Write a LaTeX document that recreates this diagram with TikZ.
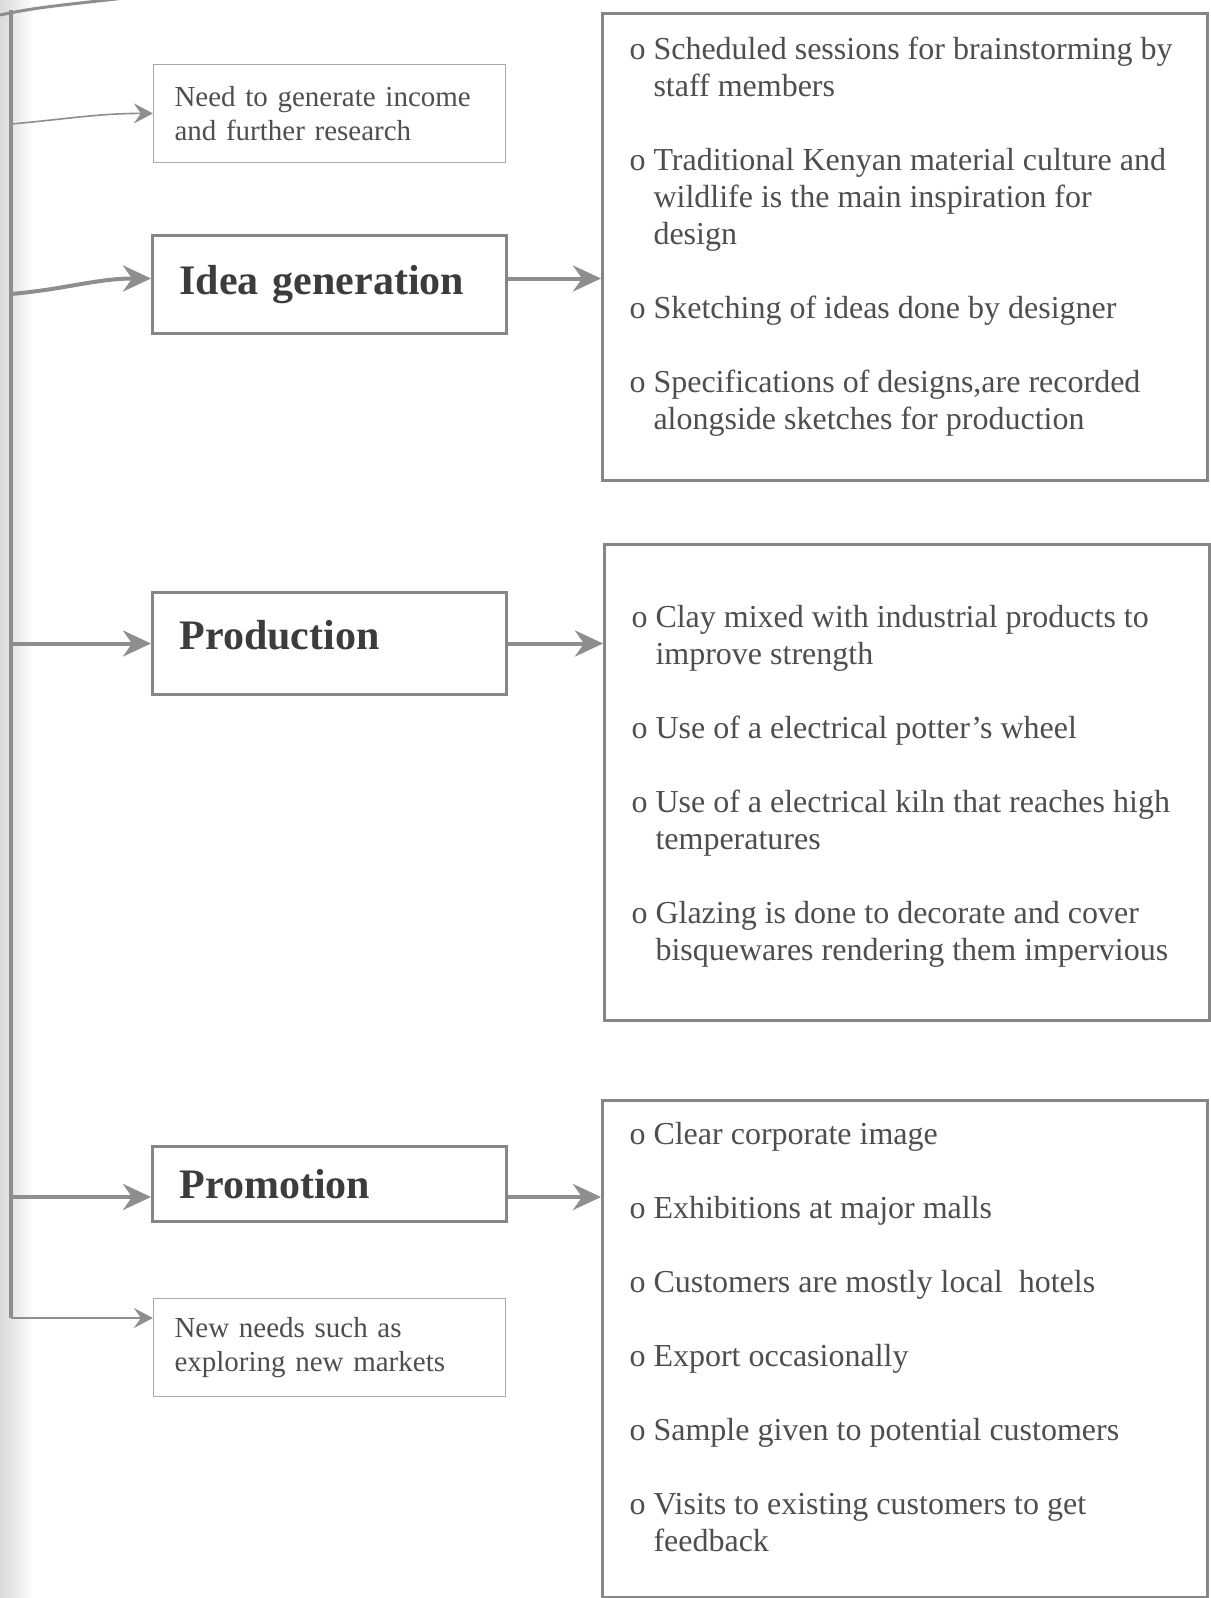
\documentclass[tikz,border=0pt]{standalone}
\usepackage{fontspec}
\setmainfont{Liberation Serif}
\usetikzlibrary{arrows.meta,positioning}

\definecolor{linegray}{HTML}{8E8E8E}
\definecolor{boxgray}{HTML}{868686}
\definecolor{thingray}{HTML}{AAAAAA}
\definecolor{inkgray}{HTML}{4E4E4E}
\definecolor{headgray}{HTML}{3C3C3C}

% one "o" point of a list, later lines hang under the text
\newcommand\bul[1]{\par\noindent\hangindent=24pt\hangafter=1\makebox[24pt][l]{o}{\let\\\newline #1}\par}
\newcommand\gap{\vspace{37pt}}
\newcommand\listbox[3]{\parbox[c][#1][t]{605pt}{\raggedright\leftskip=27pt\vspace*{#2}#3}}

\begin{document}
\begin{tikzpicture}[
    x = 1pt, y = -1pt, % pixel grid, y grows downwards
    > = {Stealth[length=28pt,width=26pt,inset=9pt]}, % arrow head style
    trunk/.style = {draw=linegray, line width=4pt},
    flow/.style = {draw=linegray, line width=4pt, ->},
    lead/.style = {draw=linegray, line width=1.6pt, -{Stealth[length=19pt,width=20pt,inset=7pt]}},
    stage/.style = {draw=boxgray, line width=3pt, anchor=north west,
        text width=300pt, inner xsep=27pt, inner ysep=0pt, align=left,
        font=\fontsize{42}{48}\selectfont\bfseries, text=headgray},
    note/.style = {draw=thingray, line width=1.2pt, minimum height=98pt,
        text width=310pt, inner xsep=21pt, inner ysep=0pt, align=left,
        font=\fontsize{29}{34}\selectfont, text=inkgray},
    detail/.style = {draw=boxgray, line width=3pt, inner sep=0pt, anchor=north west,
        font=\fontsize{32}{37}\selectfont, text=inkgray}
    ]

    \useasboundingbox (0,0) rectangle (1210,1598);
    \fill[white] (0,0) rectangle (1210,1598);
    \shade[left color=black!15, right color=white] (0,0) rectangle (34,1598);

    % stages
    \node[stage, minimum height=98pt] (idea) at (151,234) {Idea generation};
    \node[stage, minimum height=102pt, text depth=18pt] (production) at (151,591) {Production};
    \node[stage, minimum height=75pt] (promotion) at (151,1145) {Promotion};

    \node[note] (need) [above=71pt of idea] {Need to generate income\\and further research};
    \node[note] (newNeeds) [below=75pt of promotion] {New needs such as\\exploring new markets};

    % what happens in each stage
    \node[detail] (ideaDetail) at (601,12) {\listbox{467pt}{23pt}{%
        \bul{Scheduled sessions for brainstorming by\\staff members}\gap
        \bul{Traditional Kenyan material culture and\\wildlife is the main inspiration for\\design}\gap
        \bul{Sketching of ideas done by designer}\gap
        \bul{Specifications of designs,are recorded\\alongside sketches for production}}};
    \node[detail] (prodDetail) at (603,543) {\listbox{476pt}{61pt}{%
        \bul{Clay mixed with industrial products to\\improve strength}\gap
        \bul{Use of a electrical potter’s wheel}\gap
        \bul{Use of a electrical kiln that reaches high\\temperatures}\gap
        \bul{Glazing is done to decorate and cover\\bisquewares rendering them impervious}}};
    \node[detail] (promoDetail) at (601,1099) {\listbox{497pt}{22pt}{%
        \bul{Clear corporate image}\gap
        \bul{Exhibitions at major malls}\gap
        \bul{Customers are mostly local\ \ hotels}\gap
        \bul{Export occasionally}\gap
        \bul{Sample given to potential customers}\gap
        \bul{Visits to existing customers to get\\feedback}}};

    % left feed line
    \coordinate (top) at (11,10);
    \coordinate (corner) at (11,1318);
    \coordinate (needFork) at (11,124);
    \coordinate (ideaFork) at (11,294);
    \draw[trunk, line width=3pt] (0,15) .. controls (35,8) .. (125,-2);
    \draw[trunk] (top) -- (corner);

    \draw[lead] (needFork) to[out=5, in=180] (need.west);
    \draw[lead] (corner) -- (corner -| newNeeds.west);

    \draw[flow] (ideaFork) to[out=5, in=180] ([yshift=6pt]idea.west);
    \draw[flow] (production.west -| top) -- (production.west);
    \draw[flow] ([yshift=-13pt]promotion.west -| top) -- ([yshift=-13pt]promotion.west);

    \draw[flow] ([yshift=6pt]idea.east) -- ([yshift=6pt]idea.east -| ideaDetail.west);
    \draw[flow] (production.east) -- (production.east -| prodDetail.west);
    \draw[flow] ([yshift=-13pt]promotion.east) -- ([yshift=-13pt]promotion.east -| promoDetail.west);
\end{tikzpicture}
\end{document}
